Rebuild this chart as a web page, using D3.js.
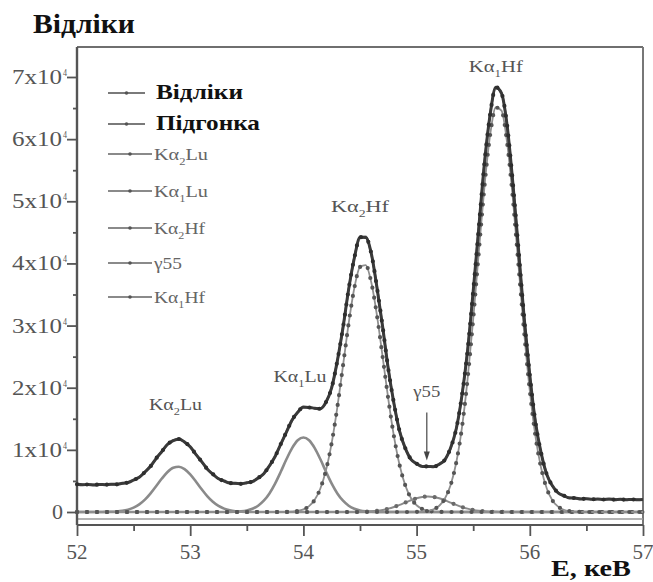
<!DOCTYPE html>
<html>
<head>
<meta charset="utf-8">
<script src="https://cdn.jsdelivr.net/npm/d3@7"></script>
<style>
  html, body { margin: 0; padding: 0; background: #fff; }
  svg { display: block; }
</style>
</head>
<body>
<svg id="chart" width="653" height="582"></svg>
<script>
// Energy grid, keV
const energy = [
  52.00,52.05,52.10,52.15,52.20,52.25,52.30,52.35,52.40,52.45,
  52.50,52.55,52.60,52.65,52.70,52.75,52.80,52.85,52.90,52.95,
  53.00,53.05,53.10,53.15,53.20,53.25,53.30,53.35,53.40,53.45,
  53.50,53.55,53.60,53.65,53.70,53.75,53.80,53.85,53.90,53.95,
  54.00,54.05,54.10,54.15,54.20,54.25,54.30,54.35,54.40,54.45,
  54.50,54.55,54.60,54.65,54.70,54.75,54.80,54.85,54.90,54.95,
  55.00,55.05,55.10,55.15,55.20,55.25,55.30,55.35,55.40,55.45,
  55.50,55.55,55.60,55.65,55.70,55.75,55.80,55.85,55.90,55.95,
  56.00,56.05,56.10,56.15,56.20,56.25,56.30,56.35,56.40,56.45,
  56.50,56.55,56.60,56.65,56.70,56.75,56.80,56.85,56.90,56.95,
  57.00
];

// Measured counts
const counts = [
  4460,4380,4430,4350,4440,4390,4480,4450,4620,4740,
  5150,5590,6440,7360,8640,9740,10900,11480,11750,11250,
  10510,9270,8140,6920,6100,5340,4990,4650,4610,4530,
  4720,4890,5460,6170,7440,8920,10930,12850,14810,16050,
  16880,16820,16710,16610,17690,20010,24350,29680,35880,40870,
  44220,44190,41590,36100,29820,22990,17460,12980,10270,8470,
  7780,7310,7340,7270,7700,8400,10290,13350,18690,25930,
  35540,45860,56290,64020,68350,67380,62160,52990,42340,31290,
  22030,14460,9510,6020,4230,3060,2640,2270,2250,2090,
  2150,2040,2100,2010,2080,1990,2050,1970,2030,1960,
  2000
];

// Fitted spectrum
const fitted = [
  4400,4400,4400,4400,4405,4413,4434,4481,4580,4772,
  5094,5626,6393,7408,8583,9795,10842,11525,11689,11306,
  10459,9320,8094,6970,6057,5388,4951,4696,4578,4569,
  4676,4936,5418,6212,7388,8974,10875,12905,14745,16108,
  16810,16880,16640,16672,17620,20092,24268,29772,35779,40980,
  44101,44308,41477,36217,29704,23102,17372,13064,10198,8538,
  7716,7371,7277,7332,7638,8464,10222,13420,18605,26028,
  35435,45969,56176,64126,68222,67496,62047,53101,42226,31401,
  21919,14563,9424,6093,4167,3118,2587,2324,2202,2137,
  2105,2080,2060,2050,2040,2030,2020,2010,2000,1990,
  1980
];

// Fit components
const kaLu2 = [
  0,0,0,0,5,13,34,81,180,372,
  694,1226,1993,3008,4183,5395,6442,7125,7289,6906,
  6059,4920,3694,2570,1657,986,545,278,131,58,
  23,9,3,0,0,0,0,0,0,0,
  0,0,0,0,0,0,0,0,0,0,
  0,0,0,0,0,0,0,0,0,0,
  0,0,0,0,0,0,0,0,0,0,
  0,0,0,0,0,0,0,0,0,0,
  0,0,0,0,0,0,0,0,0,0,
  0,0,0,0,0,0,0,0,0,0,
  0
];
const kaLu1 = [
  0,0,0,0,0,0,0,0,0,0,
  0,0,0,0,0,0,0,0,0,0,
  0,0,0,0,0,2,6,18,47,111,
  253,527,1015,1812,2988,4572,6468,8484,10284,11544,
  12000,11544,10284,8484,6468,4572,2988,1812,1015,527,
  253,111,47,18,6,2,0,0,0,0,
  0,0,0,0,0,0,0,0,0,0,
  0,0,0,0,0,0,0,0,0,0,
  0,0,0,0,0,0,0,0,0,0,
  0,0,0,0,0,0,0,0,0,0,
  0
];
const kaHf2 = [
  0,0,0,0,0,0,0,0,0,0,
  0,0,0,0,0,0,0,0,0,0,
  0,0,0,0,0,0,0,0,0,0,
  0,0,0,0,0,2,7,21,61,164,
  410,936,1956,3788,6752,11120,16880,23560,30360,36040,
  39420,39740,36920,31600,24960,18160,12160,7520,4280,2244,
  1088,484,200,76,26,9,3,0,0,0,
  0,0,0,0,0,0,0,0,0,0,
  0,0,0,0,0,0,0,0,0,0,
  0,0,0,0,0,0,0,0,0,0,
  0
];
const gamma55 = [
  0,0,0,0,0,0,0,0,0,0,
  0,0,0,0,0,0,0,0,0,0,
  0,0,0,0,0,0,0,0,0,0,
  0,0,0,0,0,0,0,0,0,0,
  0,0,0,0,0,0,0,0,4,13,
  28,57,110,199,338,540,812,1144,1516,1887,
  2206,2422,2500,2422,2206,1887,1516,1144,812,540,
  338,199,110,57,28,13,4,0,0,0,
  0,0,0,0,0,0,0,0,0,0,
  0,0,0,0,0,0,0,0,0,0,
  0
];
const kaHf1 = [
  0,0,0,0,0,0,0,0,0,0,
  0,0,0,0,0,0,0,0,0,0,
  0,0,0,0,0,0,0,0,0,0,
  0,0,0,0,0,0,0,0,0,0,
  0,0,0,0,0,0,0,0,0,0,
  0,0,0,0,0,0,0,0,2,7,
  22,65,177,434,1006,2168,4303,7926,13493,21288,
  31047,41920,52466,60719,65094,64583,59343,50501,39726,28951,
  19519,12183,7074,3773,1867,858,367,144,52,17,
  5,0,0,0,0,0,0,0,0,0,
  0
];

// Axis ticks
const xTicks = [52, 53, 54, 55, 56, 57];
const xMinorTicks = [52.5, 53.5, 54.5, 55.5, 56.5];
const yTicks = [0, 10000, 20000, 30000, 40000, 50000, 60000, 70000];
const yTickMantissa = ["0", "1", "2", "3", "4", "5", "6", "7"];
const yMinorTicks = [5000, 15000, 25000, 35000, 45000, 55000, 65000];

// Legend entries (text parts: [text, 'sub'] for subscripts)
const legendLabels = [
  [["Відліки"]],
  [["Підгонка"]],
  [["Kα"], ["2", "sub"], ["Lu"]],
  [["Kα"], ["1", "sub"], ["Lu"]],
  [["Kα"], ["2", "sub"], ["Hf"]],
  [["γ55"]],
  [["Kα"], ["1", "sub"], ["Hf"]]
];

// Peak annotations
const peakLabels = [
  [["Kα"], ["2", "sub"], ["Lu"]],
  [["Kα"], ["1", "sub"], ["Lu"]],
  [["Kα"], ["2", "sub"], ["Hf"]],
  [["Kα"], ["1", "sub"], ["Hf"]]
];
const peakLabelEnergy = [52.87, 53.97, 54.50, 55.70];
const gammaEnergy = 55.09;

// ---------------------------------------------------------------
const svg = d3.select("#chart");
const SERIF = "'Liberation Serif', 'Times New Roman', serif";

const plotLeft = 77, plotRight = 643, plotTop = 47, plotBottom = 525;
const x = d3.scaleLinear().domain([52, 57]).range([plotLeft, plotRight]);
const y = d3.scaleLinear().domain([0, 70000]).range([512, 77]);

// Text helper: draws parts and stretches horizontally to a given width
function drawText(parent, parts, x0, baseY, size, width, opts = {}) {
  const g = parent.append("g");
  const t = g.append("text")
    .attr("x", 0).attr("y", 0)
    .attr("font-family", SERIF)
    .attr("font-size", size)
    .attr("font-weight", opts.bold ? "bold" : "normal")
    .attr("fill", opts.color || "#555");
  let shifted = 0;
  parts.forEach(p => {
    const ts = t.append("tspan").text(p[0]);
    if (p[1] === "sub") {
      ts.attr("font-size", size * 0.62).attr("dy", size * 0.32);
      shifted = size * 0.32;
    } else if (p[1] === "sup") {
      ts.attr("font-size", size * 0.55).attr("dy", -size * 0.42);
      shifted = -size * 0.42;
    } else if (shifted !== 0) {
      ts.attr("dy", -shifted);
      shifted = 0;
    }
  });
  const w = t.node().getComputedTextLength();
  const sx = width && w > 0 ? width / w : 1;
  let xs = x0;
  if (opts.anchor === "middle") xs = x0 - width / 2;
  else if (opts.anchor === "end") xs = x0 - width;
  g.attr("transform", `translate(${xs},${baseY}) scale(${sx},1)`);
  return g;
}

// ---------- Frame ----------
const frame = svg.append("g");
frame.append("line").attr("x1", plotLeft).attr("x2", plotRight).attr("y1", plotTop).attr("y2", plotTop)
  .attr("stroke", "#6f6f6f").attr("stroke-width", 2.2);
frame.append("line").attr("x1", plotRight).attr("x2", plotRight).attr("y1", plotTop).attr("y2", plotBottom)
  .attr("stroke", "#777").attr("stroke-width", 2);
frame.append("line").attr("x1", plotLeft).attr("x2", plotRight).attr("y1", 519).attr("y2", 519)
  .attr("stroke", "#9a9a9a").attr("stroke-width", 1.4);

// ---------- Axes ----------
const xAxis = svg.append("g").attr("transform", `translate(0,${plotBottom})`)
  .call(d3.axisBottom(x).tickValues(xTicks).tickSize(11).tickFormat(""));
const xMinor = svg.append("g").attr("transform", `translate(0,${plotBottom})`)
  .call(d3.axisBottom(x).tickValues(xMinorTicks).tickSize(6).tickFormat(""));
const yAxis = svg.append("g").attr("transform", `translate(${plotLeft},0)`)
  .call(d3.axisLeft(y).tickValues(yTicks).tickSize(10).tickFormat(""));
const yMinor = svg.append("g").attr("transform", `translate(${plotLeft},0)`)
  .call(d3.axisLeft(y).tickValues(yMinorTicks).tickSize(4).tickFormat(""));
[xMinor, yMinor].forEach(a => a.select(".domain").remove());
[xAxis, yAxis, xMinor, yMinor].forEach(a => {
  a.selectAll(".tick line").attr("stroke", "#555").attr("stroke-width", 1.8);
});
xAxis.select(".domain").attr("d", `M${plotLeft},0H${plotRight}`).attr("stroke", "#555").attr("stroke-width", 2.2);
yAxis.select(".domain").attr("d", `M0,${plotTop}V${plotBottom}`).attr("stroke", "#555").attr("stroke-width", 2.4);

// x tick labels
xTicks.forEach(v => {
  drawText(svg, [[String(v)]], x(v), 559, 22, 21, { anchor: "middle" });
});
// y tick labels
yTicks.forEach((v, i) => {
  const yy = y(v) + 7;
  if (v === 0) {
    drawText(svg, [["0"]], 63, yy, 20, 11, { anchor: "end" });
  } else {
    drawText(svg, [[yTickMantissa[i] + "x10"]], 62, yy, 20, 50, { anchor: "end" });
    drawText(svg, [["4"]], 63, yy - 8, 10, 4);
  }
});

// Axis titles
drawText(svg, [["Відліки"]], 33, 33, 27, 102, { bold: true, color: "#111" });
drawText(svg, [["E, кеВ"]], 631, 576, 24, 80, { bold: true, color: "#111", anchor: "end" });

// ---------- Curves ----------
const line = d3.line()
  .x((d, i) => x(energy[i]))
  .y(d => y(d))
  .curve(d3.curveMonotoneX);

const curves = [
  { values: kaLu2,   color: "#8a8a8a", width: 2.6, dot: null },
  { values: kaLu1,   color: "#8a8a8a", width: 2.6, dot: null },
  { values: gamma55, color: "#8a8a8a", width: 2.0, dot: "#6a6a6a" },
  { values: kaHf2,   color: "#8f8f8f", width: 1.8, dot: "#555" },
  { values: kaHf1,   color: "#8f8f8f", width: 1.8, dot: "#555" },
  { values: fitted,  color: "#6a6a6a", width: 2.2, dot: null },
  { values: counts,  color: "#3a3a3a", width: 3.0, dot: "#2e2e2e" }
];

const plot = svg.append("g");
curves.forEach(c => {
  plot.append("path").datum(c.values)
    .attr("d", line)
    .attr("fill", "none")
    .attr("stroke", c.color)
    .attr("stroke-width", c.width)
    .attr("stroke-linejoin", "round");
  if (c.dot) {
    plot.append("path").datum(c.values)
      .attr("d", line)
      .attr("fill", "none")
      .attr("stroke", c.dot)
      .attr("stroke-width", 4.2)
      .attr("stroke-linecap", "round")
      .attr("stroke-dasharray", "0 10");
  }
});

// ---------- Peak annotations ----------
const labelOffsets = [29, 25, 25, 15];
const labelWidths = [53, 53, 58, 54];
peakLabels.forEach((parts, i) => {
  const e = peakLabelEnergy[i];
  const idx = d3.minIndex(energy, v => Math.abs(v - e));
  const lo = Math.max(0, idx - 2), hi = Math.min(energy.length - 1, idx + 2);
  const peak = d3.max(counts.slice(lo, hi + 1));
  drawText(svg, parts, x(e), y(peak) - labelOffsets[i], 16, labelWidths[i], { anchor: "middle" });
});

// gamma 55 arrow and label
{
  const idx = d3.minIndex(energy, v => Math.abs(v - gammaEnergy));
  const xa = x(gammaEnergy);
  const tip = y(counts[idx]) - 6;
  const topA = tip - 48;
  svg.append("line").attr("x1", xa).attr("x2", xa).attr("y1", topA).attr("y2", tip - 6)
    .attr("stroke", "#555").attr("stroke-width", 1.3);
  svg.append("path")
    .attr("d", `M${xa - 3},${tip - 9}L${xa + 3},${tip - 9}L${xa},${tip}Z`)
    .attr("fill", "#444");
  drawText(svg, [["γ55"]], xa, topA - 15, 16, 27, { anchor: "middle" });
}

// ---------- Legend ----------
const legendRowY = [93, 124, 154, 191, 228, 263, 297];
const legendColors = ["#7a7a7a", "#7a7a7a", "#8a8a8a", "#8a8a8a", "#8a8a8a", "#8a8a8a", "#8a8a8a"];
const legendTextWidths = [87, 104, 54, 54, 51, 28, 51];
const legend = svg.append("g");
legendLabels.forEach((parts, i) => {
  const bold = i < 2;
  const yy = legendRowY[i];
  const x2 = bold ? 145 : 152;
  legend.append("line").attr("x1", 108).attr("x2", x2).attr("y1", yy).attr("y2", yy)
    .attr("stroke", legendColors[i]).attr("stroke-width", 1.8);
  legend.append("circle").attr("cx", (108 + x2) / 2).attr("cy", yy).attr("r", 1.8)
    .attr("fill", "#555");
  drawText(legend, parts, bold ? 156 : 154, yy + 6, bold ? 22 : 16,
    legendTextWidths[i], { bold: bold, color: bold ? "#111" : "#666" });
});
</script>
</body>
</html>
